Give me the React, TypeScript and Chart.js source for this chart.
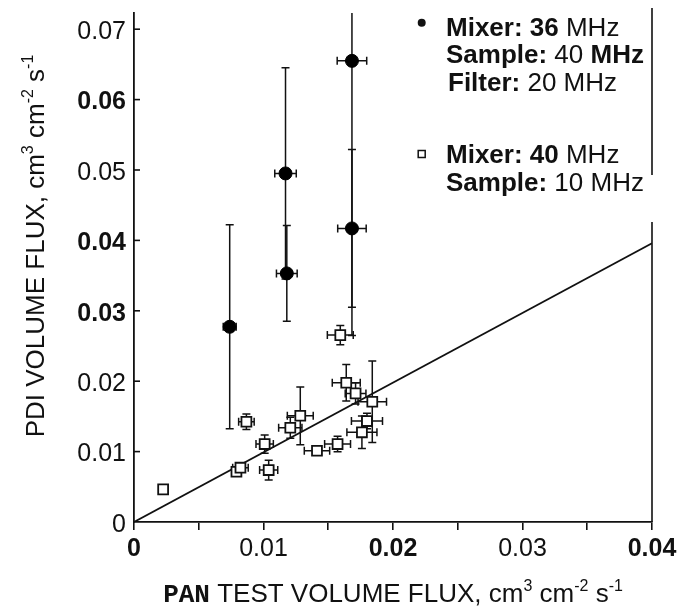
import React, { useEffect, useRef } from 'react';
import { Chart, registerables } from 'chart.js';
Chart.register(...registerables);

// ---- axis ticks ----
const xTickValues = [0, 0.005, 0.01, 0.015, 0.02, 0.025, 0.03, 0.035, 0.04];
const xTickLabels = ['0', '', '0.01', '', '0.02', '', '0.03', '', '0.04'];
const yTickValues = [0, 0.01, 0.02, 0.03, 0.04, 0.05, 0.06, 0.07];
const yTickLabels = ['0', '0.01', '0.02', '0.03', '0.04', '0.05', '0.06', '0.07'];

// ---- Mixer 36 MHz / Sample 40 MHz / Filter 20 MHz (filled circles) ----
const mix36X = [0.00739, 0.0117, 0.0118, 0.01683, 0.01683];
const mix36Y = [0.02773, 0.04951, 0.03531, 0.0655, 0.0417];
const mix36XErr = [0.0005, 0.00083, 0.0008, 0.00114, 0.0011];
const mix36YErr = [0.0145, 0.015, 0.0068, 0.039, 0.0112];

// ---- Mixer 40 MHz / Sample 10 MHz (open squares) ----
const mix40X = [0.00225, 0.00868, 0.00791, 0.00822, 0.01009, 0.0104, 0.01207, 0.01284, 0.01413, 0.01572, 0.01593, 0.01639, 0.01711, 0.0184, 0.01799, 0.0176];
const mix40Y = [0.00464, 0.01424, 0.00714, 0.00771, 0.01107, 0.00738, 0.01339, 0.01509, 0.01012, 0.01107, 0.02655, 0.01978, 0.01827, 0.01708, 0.01434, 0.01274];
const mix40XErr = [0, 0.0006, 0.0003, 0.0006, 0.00067, 0.0007, 0.0009, 0.001, 0.00098, 0.001, 0.001, 0.00108, 0.0008, 0.0011, 0.0012, 0.00116];
const mix40YErr = [0, 0.0011, 0.0004, 0.0005, 0.0013, 0.0014, 0.0015, 0.0041, 0, 0.0011, 0.00136, 0.0026, 0.0015, 0.0058, 0.0011, 0.0023];

// ---- reference line ----
const fitX = [0, 0.04];
const fitY = [0, 0.0396];

const SANS = '"Liberation Sans", Arial, sans-serif';
const MONO = '"Liberation Mono", "Courier New", monospace';
const INK = '#111';

type Seg = { t: string; f: string; dy?: number };

function drawSegs(ctx: CanvasRenderingContext2D, segs: Seg[], x: number, y: number, align: 'left' | 'center') {
  let total = 0;
  const widths = segs.map((s) => {
    ctx.font = s.f;
    const w = ctx.measureText(s.t).width;
    total += w;
    return w;
  });
  let cx = align === 'center' ? x - total / 2 : x;
  ctx.textAlign = 'left';
  ctx.textBaseline = 'alphabetic';
  segs.forEach((s, i) => {
    ctx.font = s.f;
    ctx.fillText(s.t, cx, y + (s.dy || 0));
    cx += widths[i];
  });
}

const errorBarPlugin = {
  id: 'errorBars',
  beforeDatasetsDraw(chart: any) {
    const { ctx, chartArea, scales } = chart;
    const xs = scales.x;
    const ys = scales.y;
    ctx.save();
    ctx.beginPath();
    ctx.rect(chartArea.left, chartArea.top, chartArea.right - chartArea.left, chartArea.bottom - chartArea.top);
    ctx.clip();
    ctx.strokeStyle = INK;
    ctx.lineWidth = 1.5;
    const cap = 4;
    chart.data.datasets.forEach((ds: any) => {
      if (!ds.errorBars) return;
      ds.data.forEach((p: any) => {
        const px = xs.getPixelForValue(p.x);
        const py = ys.getPixelForValue(p.y);
        if (p.yErr > 0) {
          const top = ys.getPixelForValue(p.y + p.yErr);
          const bot = ys.getPixelForValue(p.y - p.yErr);
          ctx.beginPath();
          ctx.moveTo(px, top);
          ctx.lineTo(px, bot);
          ctx.moveTo(px - cap, top);
          ctx.lineTo(px + cap, top);
          ctx.moveTo(px - cap, bot);
          ctx.lineTo(px + cap, bot);
          ctx.stroke();
        }
        if (p.xErr > 0) {
          const l = xs.getPixelForValue(p.x - p.xErr);
          const r = xs.getPixelForValue(p.x + p.xErr);
          ctx.beginPath();
          ctx.moveTo(l, py);
          ctx.lineTo(r, py);
          ctx.moveTo(l, py - cap);
          ctx.lineTo(l, py + cap);
          ctx.moveTo(r, py - cap);
          ctx.lineTo(r, py + cap);
          ctx.stroke();
        }
      });
    });
    ctx.restore();
  },
};

const decorPlugin = {
  id: 'decor',
  afterDraw(chart: any) {
    const { ctx, chartArea, scales } = chart;
    const ys = scales.y;
    ctx.save();
    ctx.strokeStyle = INK;
    ctx.fillStyle = INK;

    // inward y ticks
    ctx.lineWidth = 1.6;
    yTickValues.forEach((v) => {
      if (v === 0) return;
      const py = ys.getPixelForValue(v);
      ctx.beginPath();
      ctx.moveTo(chartArea.left, py);
      ctx.lineTo(chartArea.left + 6, py);
      ctx.stroke();
    });

    // right frame line (with the gap seen in the original)
    ctx.lineWidth = 1.6;
    const rx = chartArea.right;
    ctx.beginPath();
    ctx.moveTo(rx, chartArea.top - 5);
    ctx.lineTo(rx, ys.getPixelForValue(0.0493));
    ctx.moveTo(rx, ys.getPixelForValue(0.0426));
    ctx.lineTo(rx, chartArea.bottom);
    ctx.stroke();

    // legend
    const B = `bold 26px ${SANS}`;
    const N = `26px ${SANS}`;
    ctx.beginPath();
    ctx.arc(421.7, 22.7, 4, 0, Math.PI * 2);
    ctx.fill();
    ctx.lineWidth = 1.5;
    ctx.strokeRect(418.2, 150.5, 7, 7);
    drawSegs(ctx, [{ t: 'Mixer: ', f: B }, { t: '36', f: B }, { t: ' MHz', f: N }], 446, 36, 'left');
    drawSegs(ctx, [{ t: 'Sample: ', f: B }, { t: '40', f: N }, { t: ' MHz', f: B }], 446, 63.3, 'left');
    drawSegs(ctx, [{ t: 'Filter: ', f: B }, { t: '20', f: N }, { t: ' MHz', f: N }], 448, 90.7, 'left');
    drawSegs(ctx, [{ t: 'Mixer: ', f: B }, { t: '40', f: B }, { t: ' MHz', f: N }], 446, 163.3, 'left');
    drawSegs(ctx, [{ t: 'Sample: ', f: B }, { t: '10', f: N }, { t: ' MHz', f: N }], 446, 190.7, 'left');

    // axis titles
    const T = `26px ${SANS}`;
    const S = `16px ${SANS}`;
    const cx = (chartArea.left + chartArea.right) / 2;
    drawSegs(
      ctx,
      [
        { t: 'PAN', f: `bold 26px ${MONO}` },
        { t: ' TEST VOLUME FLUX, cm', f: T },
        { t: '3', f: S, dy: -11 },
        { t: ' cm', f: T },
        { t: '-2', f: S, dy: -11 },
        { t: ' s', f: T },
        { t: '-1', f: S, dy: -11 },
      ],
      cx,
      601.5,
      'center'
    );
    ctx.save();
    ctx.translate(44, 246);
    ctx.rotate(-Math.PI / 2);
    drawSegs(
      ctx,
      [
        { t: 'PDI VOLUME FLUX, cm', f: T },
        { t: '3', f: S, dy: -11 },
        { t: ' cm', f: T },
        { t: '-2', f: S, dy: -11 },
        { t: ' s', f: T },
        { t: '-1', f: S, dy: -11 },
      ],
      0,
      0,
      'center'
    );
    ctx.restore();
    ctx.restore();
  },
};

const xBold = ['0', '0.02', '0.04'];
const yBold = ['0.03', '0.04', '0.06'];

export default function App() {
  const ref = useRef<HTMLCanvasElement | null>(null);
  useEffect(() => {
    document.body.style.margin = '0';
    const canvas = ref.current;
    if (!canvas) return;
    Chart.defaults.font.family = SANS;
    const chart = new Chart(canvas, {
      type: 'scatter',
      data: {
        datasets: [
          {
            label: 'fit',
            type: 'line',
            data: fitX.map((x, i) => ({ x, y: fitY[i] })),
            borderColor: INK,
            borderWidth: 1.8,
            pointRadius: 0,
            fill: false,
            order: 3,
          } as any,
          {
            label: 'Mixer: 36 MHz',
            data: mix36X.map((x, i) => ({ x, y: mix36Y[i], xErr: mix36XErr[i], yErr: mix36YErr[i] })),
            pointStyle: 'circle',
            pointRadius: 6.5,
            backgroundColor: '#000',
            borderColor: '#000',
            borderWidth: 1,
            errorBars: true,
            order: 1,
          } as any,
          {
            label: 'Mixer: 40 MHz',
            data: mix40X.map((x, i) => ({ x, y: mix40Y[i], xErr: mix40XErr[i], yErr: mix40YErr[i] })),
            pointStyle: 'rect',
            pointRadius: 7,
            backgroundColor: '#fff',
            borderColor: INK,
            borderWidth: 1.8,
            errorBars: true,
            order: 2,
          } as any,
        ],
      },
      options: {
        animation: false,
        responsive: false,
        devicePixelRatio: 1,
        layout: { padding: { top: 13, right: 28, left: 0, bottom: 0 } },
        plugins: { legend: { display: false }, tooltip: { enabled: false }, title: { display: false } },
        scales: {
          x: {
            type: 'linear',
            min: 0,
            max: 0.04,
            afterBuildTicks: (s: any) => {
              s.ticks = xTickValues.map((v) => ({ value: v }));
            },
            afterFit: (s: any) => {
              s.height = 85;
              s.paddingLeft = 0;
              s.paddingRight = 0;
            },
            grid: { drawOnChartArea: false, drawTicks: true, tickLength: 8, color: INK, lineWidth: 1.6 },
            border: { color: INK, width: 1.8 },
            ticks: {
              autoSkip: false,
              maxRotation: 0,
              padding: 4,
              color: INK,
              callback: (_v: any, i: number) => xTickLabels[i],
              font: (c: any) => ({ family: SANS, size: 25, weight: xBold.includes(xTickLabels[c.index]) ? 'bold' : 'normal' }),
            },
          },
          y: {
            type: 'linear',
            min: 0,
            max: 0.0723,
            afterBuildTicks: (s: any) => {
              s.ticks = yTickValues.map((v) => ({ value: v }));
            },
            afterFit: (s: any) => {
              s.width = 134;
              s.paddingTop = 0;
              s.paddingBottom = 0;
            },
            grid: { drawOnChartArea: false, drawTicks: false, color: INK },
            border: { color: INK, width: 1.8 },
            ticks: {
              autoSkip: false,
              padding: 8,
              labelOffset: 3,
              color: INK,
              callback: (_v: any, i: number) => yTickLabels[i],
              font: (c: any) => ({ family: SANS, size: 25, weight: yBold.includes(yTickLabels[c.index]) ? 'bold' : 'normal' }),
            },
          },
        },
      },
      plugins: [errorBarPlugin, decorPlugin],
    } as any);
    return () => chart.destroy();
  }, []);
  return <canvas ref={ref} width={680} height={607} style={{ display: 'block', width: 680, height: 607 }} />;
}
